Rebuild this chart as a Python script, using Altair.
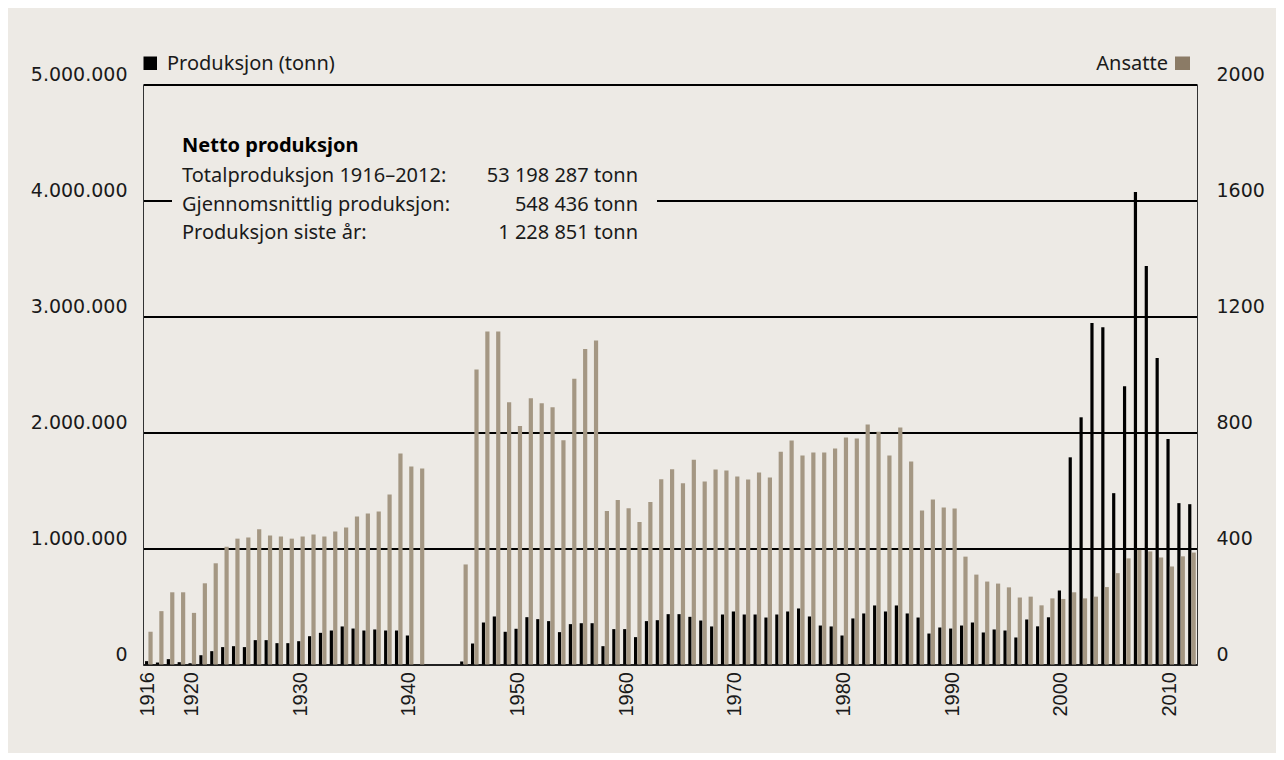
import altair as alt
import pandas as pd

# ---------------- data ----------------
years = list(range(1916, 2013))

production = [
    29000, 17000, 46000, 20000, 11000, 80000, 115000, 150000, 158000, 150000,      # 1916-1925
    210000, 210000, 184000, 184000, 201000, 244000, 273000, 293000, 328000, 310000,  # 1926-1935
    293000, 302000, 293000, 293000, 250000, 0, 0, 0, 0, 26000,                       # 1936-1945
    181000, 362000, 414000, 282000, 308000, 408000, 391000, 374000, 279000, 348000,  # 1946-1955
    356000, 356000, 158000, 305000, 305000, 236000, 374000, 382000, 434000, 434000,  # 1956-1965
    411000, 379000, 328000, 431000, 457000, 431000, 431000, 405000, 431000, 457000,  # 1966-1975
    483000, 414000, 336000, 328000, 250000, 397000, 440000, 509000, 457000, 509000,  # 1976-1985
    440000, 405000, 267000, 319000, 310000, 336000, 362000, 276000, 302000, 293000,  # 1986-1995
    233000, 388000, 329000, 407000, 638000, 1786000, 2131000, 2945000, 2908000, 1477000,  # 1996-2005
    2399000, 4074000, 3436000, 2643000, 1943000, 1391000, 1382000,                  # 2006-2012
]

employees = [
    113, 184, 249, 249, 178, 280, 349, 406, 434, 438,      # 1916-1925
    466, 445, 441, 434, 441, 448, 441, 459, 472, 510,      # 1926-1935
    521, 528, 586, 728, 683, 676, 0, 0, 0, 345,            # 1936-1945
    1017, 1148, 1148, 904, 822, 918, 901, 887, 773, 985,   # 1946-1955
    1088, 1117, 529, 567, 539, 491, 560, 639, 673, 625,    # 1956-1965
    706, 631, 672, 669, 648, 638, 662, 645, 734, 772,      # 1966-1975
    721, 731, 731, 745, 783, 779, 828, 803, 721, 817,      # 1976-1985
    700, 531, 569, 541, 538, 372, 310, 286, 279, 266,      # 1986-1995
    231, 234, 204, 228, 226, 249, 228, 234, 267, 315,      # 1996-2005
    366, 395, 390, 369, 338, 373, 386,                     # 2006-2012
]

x_label_years = [1916, 1920, 1930, 1940, 1950, 1960, 1970, 1980, 1990, 2000, 2010]
prod_ticks = [0, 1000000, 2000000, 3000000, 4000000, 5000000]
emp_ticks = [0, 400, 800, 1200, 1600, 2000]

info_title = "Netto produksjon"
info_labels = ["Totalproduksjon 1916–2012:", "Gjennomsnittlig produksjon:", "Produksjon siste år:"]
info_values = ["53 198 287 tonn", "548 436 tonn", "1 228 851 tonn"]
legend_prod = "Produksjon (tonn)"
legend_emp = "Ansatte"

df = pd.DataFrame({"year": years, "prod": production, "emp": employees})

# ---------------- style ----------------
BG = "#edeae5"
TAN = "#a49783"
TAN_LEGEND = "#8b7b66"
TXT = "#1a1a1a"
AXFONT = "DejaVu Sans"
TXTFONT = "Noto Sans"

W, H = 1054, 580

x_enc = alt.X(
    "year:O",
    scale=alt.Scale(paddingInner=0, paddingOuter=0),
    axis=alt.Axis(
        values=x_label_years, title=None, labelAngle=-90, labelAlign="right",
        labelBaseline="middle", labelFont="Liberation Sans", labelFontSize=20,
        labelColor=TXT, labelPadding=7, ticks=False, domainColor="#222",
        domainWidth=2, grid=False,
    ),
)

base = alt.Chart(df)

black = base.mark_bar(color="#000000", width=3.2, xOffset=-1.8).encode(
    x=x_enc,
    y=alt.Y(
        "prod:Q",
        scale=alt.Scale(domain=[0, 5000000], nice=False),
        axis=alt.Axis(
            values=prod_ticks, title=None, orient="left",
            labelExpr="replace(format(datum.value, ','), /,/g, '.')",
            labelFont=AXFONT, labelFontSize=19, labelColor=TXT,
            labelPadding=16, labelBaseline="bottom", ticks=False,
            domainColor="#333", domainWidth=1, grid=True,
            gridColor="#000000", gridWidth=2, gridOpacity=1,
        ),
    ),
)

tan = base.mark_bar(color=TAN, width=4.2, xOffset=2.1).encode(
    x=alt.X("year:O"),
    y=alt.Y(
        "emp:Q",
        scale=alt.Scale(domain=[0, 2000], nice=False),
        axis=alt.Axis(
            values=emp_ticks, title=None, orient="right", format="d",
            labelFont=AXFONT, labelFontSize=19, labelColor=TXT,
            labelPadding=19, labelBaseline="bottom", ticks=False,
            domainColor="#333", domainWidth=1, grid=False,
        ),
    ),
)

one = pd.DataFrame({"k": [0]})

# background patch behind the info text (breaks the 4.000.000 gridline)
patch = alt.Chart(one).mark_rect(color=BG).encode(
    x=alt.value(29), x2=alt.value(514), y=alt.value(104), y2=alt.value(128)
)


def txt(s, x, y, align="left", size=20, weight="normal", color=TXT):
    return alt.Chart(pd.DataFrame({"t": [s]})).mark_text(
        align=align, baseline="alphabetic", font=TXTFONT, fontSize=size,
        fontWeight=weight, color=color,
    ).encode(text="t:N", x=alt.value(x), y=alt.value(y))


texts = [
    txt(info_title, 39, 67.5, size=20, weight="bold", color="#000"),
    txt(info_labels[0], 39, 97.5),
    txt(info_labels[1], 39, 126),
    txt(info_labels[2], 39, 154.5),
    txt(info_values[0], 495, 97.5, align="right"),
    txt(info_values[1], 495, 126, align="right"),
    txt(info_values[2], 495, 154.5, align="right"),
    txt(legend_prod, 24, -15),
    txt(legend_emp, 1025, -14.5, align="right"),
]

leg_black = alt.Chart(one).mark_rect(color="#000000").encode(
    x=alt.value(0.5), x2=alt.value(14), y=alt.value(-28), y2=alt.value(-14.5)
)
leg_tan = alt.Chart(one).mark_rect(color=TAN_LEGEND).encode(
    x=alt.value(1032), x2=alt.value(1047), y=alt.value(-28), y2=alt.value(-14.5)
)

chart = (
    alt.layer(black, tan, patch, leg_black, leg_tan, *texts)
    .resolve_scale(y="independent")
    .properties(
        width=W, height=H, background=BG,
        autosize=alt.AutoSizeParams(type="none"),
        padding={"left": 135, "top": 76.5, "right": 79, "bottom": 88},
    )
    .configure_view(stroke=None)
)

chart.save("out.html", embed_options={"renderer": "svg", "actions": False})
